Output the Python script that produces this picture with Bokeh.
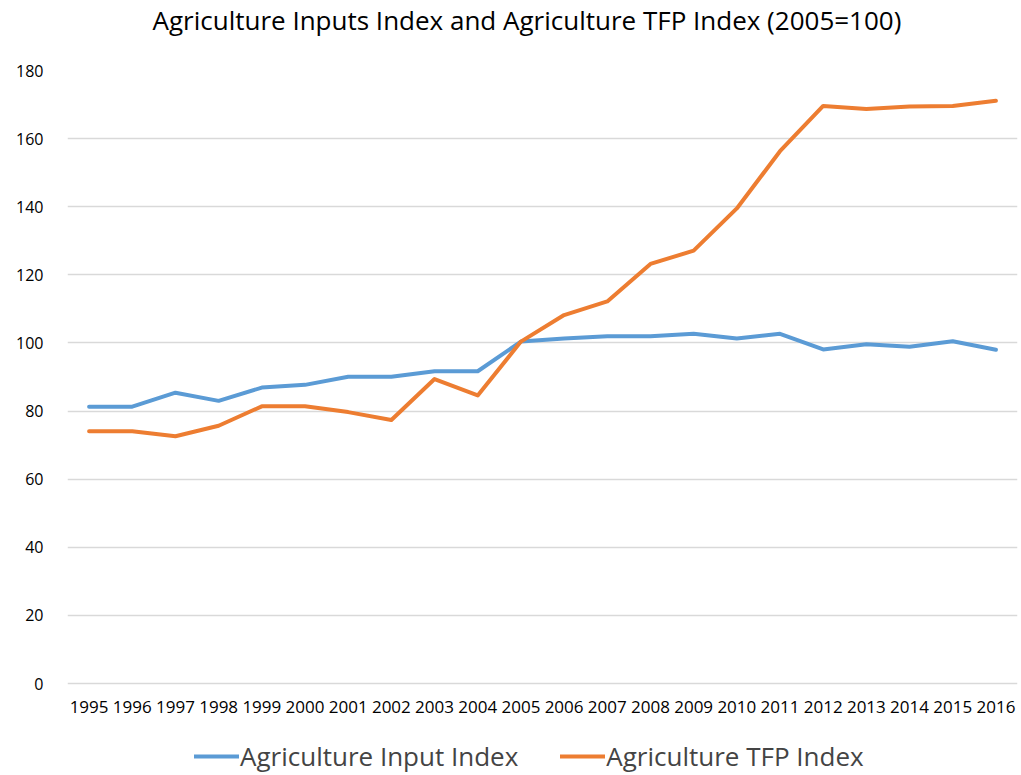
from bokeh.plotting import figure
from bokeh.models import FactorRange, Range1d, Legend, LegendItem, ColumnDataSource, Title
from bokeh.core.properties import value
from bokeh.embed import file_html
from bokeh.resources import INLINE

years = [str(y) for y in range(1995, 2017)]
input_index = [81.3, 81.3, 85.4, 83.0, 86.9, 87.7, 90.1, 90.1, 91.7, 91.7, 100.4,
               101.3, 102.0, 102.0, 102.7, 101.3, 102.7, 98.1, 99.6, 98.9, 100.5, 98.0]
tfp_index = [74.1, 74.1, 72.6, 75.7, 81.4, 81.4, 79.7, 77.4, 89.4, 84.6, 100.4,
             108.2, 112.2, 123.2, 127.1, 139.5, 156.3, 169.6, 168.7, 169.4, 169.6, 171.1]
y_ticks = [0, 20, 40, 60, 80, 100, 120, 140, 160, 180]
title_text = "Agriculture Inputs Index and Agriculture TFP Index (2005=100)"

FONT = "Open Sans"

p = figure(width=1021, height=775, x_range=FactorRange(*years), y_range=Range1d(-27, 180),
           output_backend="svg", toolbar_location=None,
           min_border_left=67, min_border_right=4, min_border_top=70, min_border_bottom=0)
p.title = None

# spacer panel next to the frame, then the real title above it
spacer = Title(text=" ", text_font_size="1px", standoff=28)
p.add_layout(spacer, "above")
main_title = Title(text=title_text, align="left", vertical_align="top",
                   text_font=FONT, text_font_size="26px", text_font_style="normal",
                   text_color="#000000", offset=85, standoff=0)
p.add_layout(main_title, "above")

p.outline_line_color = None
p.background_fill_color = "white"
p.border_fill_color = "white"

r1 = p.line(years, input_index, line_color="#5B9BD5", line_width=4, line_join="round", line_cap="round")
r2 = p.line(years, tfp_index, line_color="#ED7D31", line_width=4, line_join="round", line_cap="round")

p.xgrid.grid_line_color = None
p.ygrid.ticker = y_ticks
p.ygrid.grid_line_color = "#D9D9D9"
p.ygrid.grid_line_width = 1.5

p.yaxis.ticker = y_ticks
p.yaxis.axis_line_color = None
p.yaxis.major_tick_line_color = None
p.yaxis.minor_tick_line_color = None
p.yaxis.major_label_text_font = FONT
p.yaxis.major_label_text_font_size = "16px"
p.yaxis.major_label_text_color = "#000000"
p.yaxis.major_label_standoff = 18

# category labels drawn just below the zero line, inside the extended frame
p.xaxis.visible = False
label_src = ColumnDataSource(dict(x=years, y=[-6.8] * len(years), t=years))
p.text(x="x", y="y", text="t", source=label_src, text_font=value(FONT),
       text_font_size="17px", text_align="center", text_baseline="middle",
       text_color="#000000")

legend = Legend(items=[LegendItem(label="Agriculture Input Index", renderers=[r1]),
                       LegendItem(label="Agriculture TFP Index", renderers=[r2])],
                orientation="horizontal", location=(127, 1),
                label_text_font=FONT, label_text_font_size="26px",
                glyph_width=45, glyph_height=20, spacing=42,
                border_line_color=None, background_fill_alpha=0,
                margin=0, padding=1, label_standoff=1)
p.add_layout(legend, "center")

open("out.html", "w").write(file_html(p, INLINE))
